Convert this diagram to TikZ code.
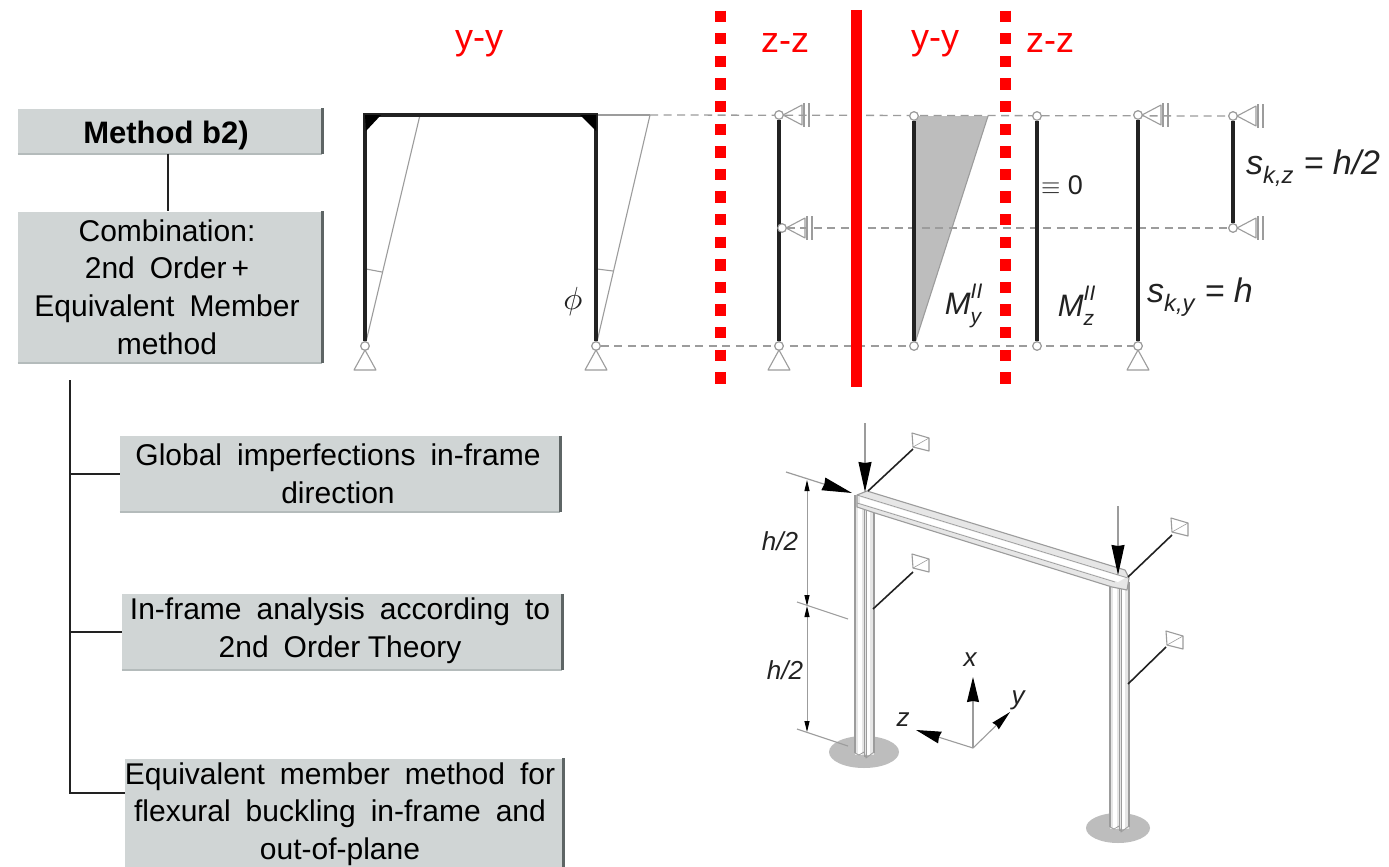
\documentclass[tikz,border=0pt]{standalone}
\usepackage{fontspec}
\setmainfont{Liberation Sans}
\usetikzlibrary{arrows.meta,positioning,calc}
\definecolor{Panel}{HTML}{D0D5D5}
\definecolor{PanelEdge}{HTML}{5E6565}
\definecolor{PanelLow}{HTML}{B4BBBB}
\definecolor{Ink}{HTML}{222222}
\definecolor{Soft}{HTML}{9C9C9C}
\definecolor{Wedge}{HTML}{BDBDBD}
\definecolor{Steel}{HTML}{E6E6E6}
\definecolor{Redline}{HTML}{FF0000}
\newcommand{\panelfont}{\fontsize{30}{37.6}\selectfont\spaceskip=.5em plus 0pt\relax}
\newcommand{\stackscr}[2]{\rlap{\raisebox{.52em}{\fontsize{21}{22}\selectfont #1}}\raisebox{-.3em}{\fontsize{21}{22}\selectfont #2}}
\tikzset{
  panel/.style={
    fill=Panel, align=center, inner sep=0pt, text=black,
    font=\panelfont
  },
  edgeR/.style={line width=2.6pt,draw=PanelEdge},
  edgeB/.style={line width=1.6pt,draw=PanelLow},
  link/.style={line width=1.1pt,draw=Ink},
  axis/.style={font=\fontsize{36}{40}\selectfont,text=Redline},
  redDash/.style={line width=11pt,draw=Redline,dash pattern=on 11.3pt off 11.3pt},
  guide/.style={line width=1.3pt,draw=Soft,dash pattern=on 8pt off 5.5pt},
  member/.style={line width=3.2pt,draw=Ink},
  thin/.style={line width=1.1pt,draw=Soft},
  hinge/.style={circle,draw=Soft,fill=white,line width=1.1pt,minimum size=8.5pt,inner sep=0pt},
  sym/.style={font=\fontsize{34}{36}\selectfont\itshape,text=Ink,inner sep=0pt},
  small/.style={font=\fontsize{26}{28}\selectfont\itshape,text=Ink,inner sep=0pt},
  load/.style={line width=1.2pt,draw=Soft,-{Stealth[length=30pt,width=13pt,inset=1pt,black]}},
  brace/.style={line width=1.6pt,draw=Ink},
  dim/.style={line width=.9pt,draw=Soft,{Stealth[length=11pt,width=5pt,inset=0pt,black]}-{Stealth[length=11pt,width=5pt,inset=0pt,black]}},
  pinbase/.pic={\draw[thin,line join=round] (0,4) -- (-11,24) -- (11,24) -- cycle;},
  sidestop/.pic={
    \draw[thin,line join=round] (4,0) -- (23,-10) -- (23,10) -- cycle;
    \draw[thin,line width=1.3pt] (25,-12) -- (25,12) (30,-12) -- (30,12);
  },
  anchorbox/.pic={
    \draw[thin,line join=round] (0,0) -- (17,5) -- (17,18) -- (1,14) -- cycle;
    \draw[thin,line width=.6pt] (1,14) -- (17,5);
  }
}
\begin{document}
\begin{tikzpicture}[x=1pt,y=-1pt]
  \useasboundingbox (0,0) rectangle (1389,867);
  \fill[white] (0,0) rectangle (1389,867);

  % left column
  \node[panel,minimum width=304pt,minimum height=45pt] (method) at (170,131) {};
  \node[panel,minimum width=304pt,minimum height=151pt] (combo) at (170,287) {};
  \node[panel,minimum width=440pt,minimum height=76pt] (imperf) at (340,474) {};
  \node[panel,minimum width=440pt,minimum height=76pt] (inframe) at (342,632) {};
  \node[panel,minimum width=438pt,minimum height=109pt] (equiv) at (344,813) {};
  \node[font=\fontsize{31}{34}\selectfont\bfseries,inner sep=0pt] (methodT) at (166,135) {Method b2)};
  \node[font=\panelfont,align=center,inner sep=0pt] (comboT) at (167,287) {Combination:\\2nd Order\,+\\Equivalent Member\\method};
  \node[font=\panelfont,align=center,inner sep=0pt] (imperfT) at (338,474) {Global imperfections in-frame\\direction};
  \node[font=\panelfont,align=center,inner sep=0pt] (inframeT) at (340,631) {In-frame analysis according to\\2nd Order{\spaceskip=.25em\relax\ }Theory};
  \node[font=\panelfont,align=center,inner sep=0pt] (equivT) at (340,814) {Equivalent member method for\\flexural buckling in-frame and\\out-of-plane};
  \foreach \name in {method,combo,imperf,inframe,equiv}{
    \draw[edgeB] (\name.south west) -- (\name.south east);
    \draw[edgeR] (\name.north east) -- (\name.south east);
  }
  \coordinate (trunk) at (70,380);
  \coordinate (tapEquiv) at (equiv.west |- 0,793);
  \draw[link] (method.south -| 168,0) -- (combo.north -| 168,0);
  \draw[link] (trunk) |- (imperf.west);
  \draw[link] (trunk) |- (inframe.west);
  \draw[link] (trunk) |- (tapEquiv);

  % section titles
  \node[axis] (yyA) at (479,44) {y-y};
  \node[axis] (zzA) at (785,43) {z-z};
  \node[axis] (yyB) at (935,44) {y-y};
  \node[axis] (zzB) at (1050,43) {z-z};

  % hinges
  \node[hinge] (fLb) at (365,346) {};
  \node[hinge] (fRb) at (596,346) {};
  \node[hinge] (zAt) at (779,115) {};
  \node[hinge] (zAm) at (782,228) {};
  \node[hinge] (zAb) at (779,346) {};
  \node[hinge] (myt) at (914,116) {};
  \node[hinge] (myb) at (914,346) {};
  \node[hinge] (mzt) at (1037,116) {};
  \node[hinge] (mzb) at (1037,346) {};
  \node[hinge] (yCt) at (1138,115) {};
  \node[hinge] (yCb) at (1138,346) {};
  \node[hinge] (zCt) at (1233,116) {};
  \node[hinge] (zCb) at (1233,228) {};
  \coordinate (fLt) at (365,115);
  \coordinate (fRt) at (596,115);
  \coordinate (fLs) at (420,115);
  \coordinate (fRs) at (650,115);

  % guides and moment wedge
  \fill[Wedge] (myt.center) -- (988,116) -- (myb.center) -- cycle;
  \draw[thin] (988,116) -- (myb);
  \draw[guide] (fRs) -- (zCt);
  \draw[guide] (zAm) -- (zCb);
  \draw[guide] (fRb) -- (yCb);

  % portal frame
  \draw[thin] (fLb) -- (fLs);
  \draw[thin] (fRb) -- (fRs);
  \draw[thin] (fRt) -- (fRs);
  \draw[thin] (366,269) -- (382,272);
  \draw[thin] (597,269) -- (613,271);
  \draw[member] (fLt) -- (fLb);
  \draw[member] (fRt) -- (fRb);
  \draw[member,line width=4pt] ($(fLt)+(-1.6,0)$) -- ($(fRt)+(1.6,0)$);
  \fill[black] (365,115) -- (381,115) -- (366,131) -- cycle;
  \fill[black] (596,115) -- (580,115) -- (596,131) -- cycle;

  % buckling members
  \draw[member] (zAt) -- (zAb);
  \draw[member] (myt) -- (myb);
  \draw[member] (mzt) -- (mzb);
  \draw[member] (yCt) -- (yCb);
  \draw[member] (zCt) -- (zCb);
  \foreach \name in {fLb,fRb,zAt,zAm,zAb,myt,myb,mzt,mzb,yCt,yCb,zCt,zCb}
    \node[hinge] at (\name) {};
  \foreach \name in {fLb,fRb,zAb,yCb}
    \pic at (\name) {pinbase};
  \foreach \name in {zAt,zAm,yCt,zCt,zCb}
    \pic at (\name) {sidestop};

  % labels
  \node[inner sep=0pt,scale=3.2,text=Ink] (phiL) at (573,301) {$\phi$};
  \node[sym,font=\fontsize{27}{30}\selectfont\upshape] (zeroL) at (1062,185) {$\equiv$ 0};
  \node[sym,font=\fontsize{31}{34}\selectfont\itshape] (myL) at (963,306) {M\stackscr{II}{y}};
  \node[sym,font=\fontsize{31}{34}\selectfont\itshape] (mzL) at (1076,306) {M\stackscr{II}{z}};
  \node[sym,anchor=west] (skyL) at (1147,297) {s\textsubscript{k,y} = h};
  \node[sym,anchor=west] (skzL) at (1246,168) {s\textsubscript{k,z} = h/2};

  % red separators
  \draw[redDash] (720,10.6) -- (720,384);
  \draw[redDash] (1005,10.6) -- (1005,384);
  \draw[line width=11pt,draw=Redline] (856,10) -- (856,387);

  % isometric frame
  \fill[Wedge] (864,752) ellipse [x radius=35,y radius=16];
  \fill[Wedge] (1118,828) ellipse [x radius=32,y radius=15];
  \foreach \xl/\yt/\yb in {855/495/755,1110/582/829}{
    \fill[Steel] (\xl,\yt) rectangle (\xl+19,\yb);
    \fill[white] (\xl+3,\yt) rectangle (\xl+7,\yb);
    \fill[white] (\xl+12,\yt) rectangle (\xl+15,\yb);
    \draw[thin] (\xl,\yt) -- (\xl,\yb-2) (\xl+19,\yt) -- (\xl+19,\yb-2);
    \draw[thin,line width=.8pt] (\xl+9,\yt) -- (\xl+9,\yb+2) (\xl+11,\yt) -- (\xl+11,\yb+2);
    \draw[thin,line width=.8pt] (\xl,\yb-2) -- (\xl+4,\yb) -- (\xl+9,\yb-3) -- (\xl+11,\yb+3) -- (\xl+19,\yb-3);
  }
  \fill[Steel] (857,495) -- (867,491) -- (1125,570) -- (1129,578) -- (1127,590) -- (1112,587) -- (875,513) -- (857,507) -- cycle;
  \fill[white] (860,497) -- (1125,578) -- (1118,582) -- (860,503) -- cycle;
  \draw[thin,line join=round] (857,495) -- (867,491) -- (1125,570) -- (1129,578) -- (1127,590) -- (1112,587) -- (875,513) -- (857,507) -- cycle;
  \draw[thin,line width=.7pt] (857,495) -- (1128,578);
  \draw[thin,line width=.7pt] (857,503) -- (1115,582);

  % restraints and loads
  \coordinate (topL) at (865,423);
  \coordinate (headL) at (865,492);
  \coordinate (topR) at (1118,506);
  \coordinate (headR) at (1118,575);
  \coordinate (sideL) at (786,472);
  \coordinate (sideT) at (852,493);
  \draw[load] (topL) -- (headL);
  \draw[load] (topR) -- (headR);
  \draw[load] (sideL) -- (sideT);
  \draw[brace] (868,491) -- (913,449);
  \draw[brace] (873,609) -- (913,572);
  \draw[brace] (1128,577) -- (1172,535);
  \draw[brace] (1128,684) -- (1166,647);
  \pic at (912,433) {anchorbox};
  \pic at (912,554) {anchorbox};
  \pic at (1171,518) {anchorbox};
  \pic at (1166,631) {anchorbox};

  % dimension chain
  \coordinate (dimT) at (807,480);
  \coordinate (dimM) at (807,606);
  \coordinate (dimB) at (807,732);
  \draw[dim] (dimT) -- (dimM);
  \draw[dim] (dimM) -- (dimB);
  \draw[thin] (797,602) -- (848,619);
  \draw[thin] (797,729) -- (848,746);
  \node[small] (halfA) at (780,541) {h/2};
  \node[small] (halfB) at (785,670) {h/2};

  % axes
  \coordinate (orig) at (973,748);
  \coordinate (axX) at (973,677);
  \coordinate (axZ) at (916,730);
  \coordinate (axY) at (1010,712);
  \draw[thin,-{Stealth[length=25pt,width=12pt,inset=1pt,black]}] (orig) -- (axX);
  \draw[thin,-{Stealth[length=25pt,width=12pt,inset=1pt,black]}] (orig) -- (axZ);
  \draw[thin,-{Stealth[length=20pt,width=9pt,inset=1pt,black]}] (orig) -- (axY);
  \node[small] (xL) at (970,660) {x};
  \node[small] (zL) at (903,720) {z};
  \node[small] (yL) at (1018,700) {y};
\end{tikzpicture}
\end{document}
